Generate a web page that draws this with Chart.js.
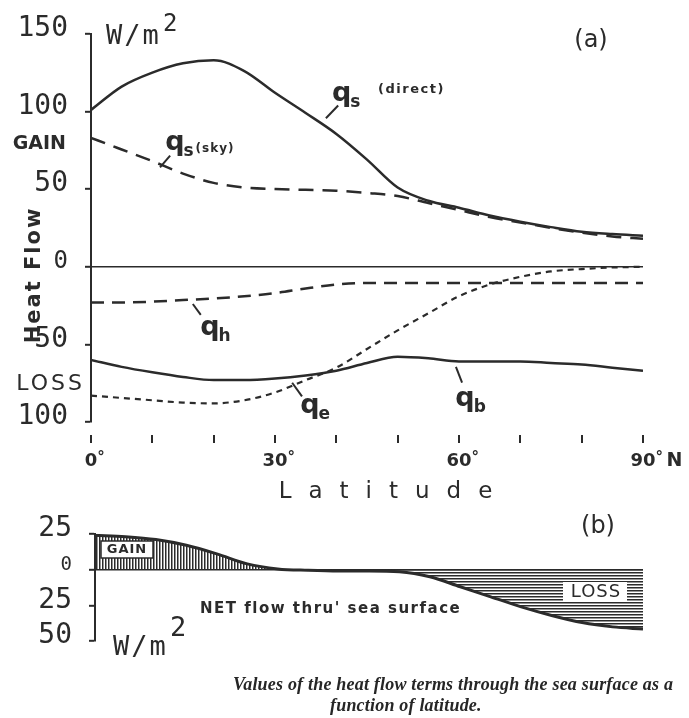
<!DOCTYPE html>
<html>
<head>
<meta charset="utf-8">
<script src="https://cdn.jsdelivr.net/npm/chart.js@4"></script>
<style>
  body { margin: 0; background: #fff; width: 689px; height: 718px; position: relative; overflow: hidden; }
  canvas { position: absolute; left: 0; }
  #grafA { top: 0; }
  #grafB { top: 500px; }
  .legenda { position: absolute; font: italic bold 18px "Liberation Serif", serif; color: #262626; white-space: nowrap; letter-spacing: 0.2px; }
</style>
</head>
<body>
<canvas id="grafA" width="689" height="505"></canvas>
<canvas id="grafB" width="689" height="175"></canvas>
<div class="legenda" style="left:233px;top:674px">Values of the heat flow terms through the sea surface as a</div>
<div class="legenda" style="left:330px;top:695px">function of latitude.</div>
<script>
// latitude (graus N)
var latitudes = [0, 5, 10, 15, 20, 25, 30, 35, 40, 45, 50, 55, 60, 65, 70, 75, 80, 85, 90];

// painel (a), W/m2
var qsDireta = [101, 116, 125, 131, 133, 126, 112, 99, 85.5, 69, 51, 42.5, 38, 33, 29, 25.5, 22.5, 21, 20];
var qsCeu    = [83, 75.5, 68, 60, 54, 51, 50, 49.5, 49, 47.5, 45.5, 41, 36.5, 32, 28.5, 25, 22, 19.5, 18];
var qh       = [-23, -23, -22.5, -21.5, -20.5, -19, -17, -14, -11.5, -10.5, -10.5, -10.5, -10.5, -10.5, -10.5, -10.5, -10.5, -10.5, -10.5];
var qe       = [-83, -84.5, -86, -87.5, -88, -86, -81, -73, -65, -53, -41, -30, -19, -11.5, -6.5, -3, -1.5, -0.5, 0];
var qb       = [-60, -64.5, -68, -71, -73, -73, -72, -70, -67, -62, -58, -59, -61, -61, -61, -62, -63, -65, -67];

// painel (b), fluxo liquido
var liquido  = [24, 23, 21, 17, 11, 4, 0.5, -0.5, -1, -1, -1.5, -5, -12, -19, -26, -32, -37, -40, -41.5];

var rotulosX = ["0", "30", "60", "90"];

var tinta = '#2b2b2b';

function pares(dados) {
  return latitudes.map(function (l, i) { return { x: l, y: dados[i] }; });
}

function serie(dados, larg, traco) {
  return {
    data: pares(dados),
    borderColor: tinta,
    borderWidth: larg,
    borderDash: traco || [],
    pointRadius: 0,
    fill: false,
    tension: 0.4,
    cubicInterpolationMode: 'monotone'
  };
}

function escreve(ctx, s, x, y, fonte, alinh, base, espaco) {
  ctx.save();
  ctx.font = fonte;
  ctx.fillStyle = tinta;
  ctx.textAlign = alinh || 'left';
  ctx.textBaseline = base || 'alphabetic';
  if (espaco) ctx.letterSpacing = espaco;
  ctx.fillText(s, x, y);
  ctx.restore();
}

function traco(ctx, x1, y1, x2, y2, larg) {
  ctx.save();
  ctx.strokeStyle = tinta;
  ctx.lineWidth = larg || 2;
  ctx.beginPath();
  ctx.moveTo(x1, y1);
  ctx.lineTo(x2, y2);
  ctx.stroke();
  ctx.restore();
}

// rotulo "q" com indice, ancorado em coordenadas de dados
function rotuloQ(chart, lat, val, indice, extra) {
  var ctx = chart.ctx;
  var x = chart.scales.x.getPixelForValue(lat);
  var y = chart.scales.y.getPixelForValue(val);
  ctx.save();
  ctx.font = 'bold 27px "DejaVu Sans"';
  var w = ctx.measureText('q').width;
  ctx.restore();
  escreve(ctx, 'q', x, y, 'bold 27px "DejaVu Sans"');
  escreve(ctx, indice, x + w - 1, y + 6, 'bold 17px "DejaVu Sans"');
  if (extra) escreve(ctx, extra, x + w + 11, y + 2, 'bold 12px "DejaVu Sans"', 'left', 'alphabetic', '1px');
}

function seta(chart, lat1, v1, lat2, v2) {
  var sx = chart.scales.x, sy = chart.scales.y;
  traco(chart.ctx, sx.getPixelForValue(lat1), sy.getPixelForValue(v1),
        sx.getPixelForValue(lat2), sy.getPixelForValue(v2), 2);
}

var textosA = {
  id: 'textosA',
  afterDraw: function (chart) {
    var ctx = chart.ctx, sx = chart.scales.x;
    escreve(ctx, 'W/m', 106, 44, '27px "DejaVu Sans Mono"', 'left', 'alphabetic', '2px');
    escreve(ctx, '2', 163, 31, '24px "DejaVu Sans Mono"');
    escreve(ctx, '(a)', 591, 41, '24px "DejaVu Sans"', 'center', 'middle');
    escreve(ctx, 'GAIN', 66, 144, 'bold 19px "DejaVu Sans"', 'right', 'middle');
    escreve(ctx, 'LOSS', 85, 384, '22px "DejaVu Sans"', 'right', 'middle', '3px');

    ctx.save();
    ctx.translate(35, 275);
    ctx.rotate(-Math.PI / 2);
    escreve(ctx, 'Heat Flow', 0, 0, 'bold 21px "DejaVu Sans"', 'center', 'middle', '2px');
    ctx.restore();

    // marcas do eixo x a cada 10 graus, soltas abaixo do grafico
    ctx.save();
    ctx.fillStyle = tinta;
    for (var lat = 0; lat <= 90; lat += 10) {
      ctx.fillRect(Math.round(sx.getPixelForValue(lat)) - 1, 435, 2, 8);
    }
    ctx.restore();

    rotulosX.forEach(function (r) {
      var x = sx.getPixelForValue(Number(r));
      ctx.save();
      ctx.font = 'bold 18px "DejaVu Sans"';
      var w = ctx.measureText(r).width;
      ctx.restore();
      escreve(ctx, r, x - w / 2, 466, 'bold 18px "DejaVu Sans"');
      escreve(ctx, '°', x + w / 2, 462, 'bold 15px "DejaVu Sans"');
      if (r === '90') escreve(ctx, 'N', x + w / 2 + 11, 466, 'bold 19px "DejaVu Sans"');
    });

    escreve(ctx, 'Latitude', 394, 498, '23px "DejaVu Sans"', 'center', 'alphabetic', '17px');

    rotuloQ(chart, 39.3, 107, 's');
    escreve(ctx, '(direct)', sx.getPixelForValue(46.8), chart.scales.y.getPixelForValue(112), 'bold 13px "DejaVu Sans"', 'left', 'alphabetic', '1.5px');
    rotuloQ(chart, 12.1, 75.3, 's', '(sky)');
    rotuloQ(chart, 17.8, -43.7, 'h');
    rotuloQ(chart, 34.1, -94.3, 'e');
    rotuloQ(chart, 59.4, -89.9, 'b');

    seta(chart, 38.3, 95.6, 40.3, 103.8);
    seta(chart, 11.25, 64, 12.9, 71.5);
    seta(chart, 16.6, -24, 17.9, -31);
    seta(chart, 32.8, -74.7, 34.4, -83.5);
    seta(chart, 59.5, -64.5, 60.5, -74.7);
  }
};

var textosB = {
  id: 'textosB',
  afterDraw: function (chart) {
    var ctx = chart.ctx;
    escreve(ctx, '(b)', 598, 27, '24px "DejaVu Sans"', 'center', 'middle');

    ctx.save();
    ctx.fillStyle = '#fff';
    ctx.strokeStyle = tinta;
    ctx.lineWidth = 1.5;
    ctx.fillRect(101, 41, 52, 17);
    ctx.strokeRect(101, 41, 52, 17);
    ctx.fillRect(563, 82, 64, 19);
    ctx.restore();
    escreve(ctx, 'GAIN', 127, 50, 'bold 13px "DejaVu Sans"', 'center', 'middle', '1px');
    escreve(ctx, 'LOSS', 596, 92, '18px "DejaVu Sans"', 'center', 'middle', '1px');

    escreve(ctx, "NET flow thru' sea surface", 200, 113, 'bold 15px "DejaVu Sans"', 'left', 'alphabetic', '1.5px');
    escreve(ctx, 'W/m', 113, 155, '27px "DejaVu Sans Mono"', 'left', 'alphabetic', '2px');
    escreve(ctx, '2', 170, 136, '27px "DejaVu Sans Mono"');
  }
};

function hachura(alvo, vertical) {
  var c = document.createElement('canvas');
  c.width = 3; c.height = 3;
  var g = c.getContext('2d');
  g.fillStyle = tinta;
  if (vertical) g.fillRect(0, 0, 1.5, 3); else g.fillRect(0, 0, 3, 1.5);
  return alvo.getContext('2d').createPattern(c, 'repeat');
}

function eixoY(min, max, passo, largura, pequeno) {
  return {
    min: min, max: max,
    afterFit: function (s) { s.width = largura; },
    ticks: {
      stepSize: passo,
      color: tinta,
      padding: 17,
      labelOffset: -5,
      callback: function (v) { return Math.abs(v); },
      font: function (c) {
        return { family: 'DejaVu Sans Mono', size: (c.tick && c.tick.value === 0) ? pequeno : 28 };
      }
    },
    grid: {
      color: function (c) { return (c.tick && c.tick.value === 0) ? tinta : 'rgba(0,0,0,0)'; },
      lineWidth: 1.6,
      tickColor: tinta,
      tickLength: 6,
      tickWidth: 2
    },
    border: { color: tinta, width: 2 }
  };
}

Chart.defaults.font.family = '"DejaVu Sans"';

new Chart(document.getElementById('grafA'), {
  type: 'line',
  data: {
    datasets: [
      serie(qsDireta, 2.5),
      serie(qsCeu, 2.5, [15, 9]),
      serie(qh, 2.5, [13, 8]),
      serie(qe, 2.2, [6, 5]),
      serie(qb, 2.5)
    ]
  },
  options: {
    responsive: false,
    animation: false,
    devicePixelRatio: 1,
    layout: { padding: { top: 28, right: 46, bottom: 83, left: 0 } },
    plugins: { legend: { display: false }, tooltip: { enabled: false } },
    scales: {
      x: { type: 'linear', min: 0, max: 90, display: false },
      y: eixoY(-100, 150, 50, 91, 24)
    }
  },
  plugins: [textosA]
});

var canvasB = document.getElementById('grafB');
var liq = serie(liquido, 3);
liq.fill = { target: 'origin', above: hachura(canvasB, true), below: hachura(canvasB, false) };

new Chart(canvasB, {
  type: 'line',
  data: { datasets: [liq] },
  options: {
    responsive: false,
    animation: false,
    devicePixelRatio: 1,
    layout: { padding: { top: 24, right: 46, bottom: 30, left: 0 } },
    plugins: { legend: { display: false }, tooltip: { enabled: false } },
    scales: {
      x: { type: 'linear', min: 0, max: 90, display: false },
      y: eixoY(-50, 25, 25, 95, 19)
    }
  },
  plugins: [textosB]
});
</script>
</body>
</html>
